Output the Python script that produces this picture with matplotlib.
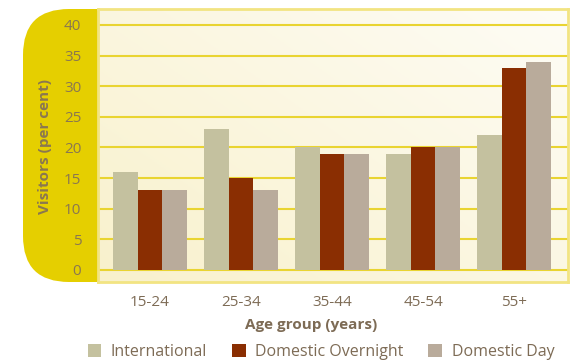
import matplotlib.pyplot as plt
import numpy as np
from matplotlib.patches import FancyBboxPatch

groups = ['15-24', '25-34', '35-44', '45-54', '55+']
international = [16, 23, 20, 19, 22]
overnight = [13, 15, 19, 20, 33]
day_trip = [13, 13, 19, 20, 34]
series_names = ['International', 'Domestic Overnight', 'Domestic Day']
colors = ['#c4c19f', '#8a2e02', '#b9ab9b']
yticks = [0, 5, 10, 15, 20, 25, 30, 35, 40]

txt = '#7d6b55'
yellow = '#e5cf00'
plt.rcParams['font.family'] = ['Open Sans', 'DejaVu Sans']

W, H = 575, 364
fig = plt.figure(figsize=(W / 100, H / 100), dpi=100)

# background axes in pixel units for the rounded yellow panel
bg = fig.add_axes([0, 0, 1, 1], zorder=0)
bg.set_xlim(0, W)
bg.set_ylim(H, 0)
bg.axis('off')
bg.add_patch(FancyBboxPatch((23, 9), 150, 273, boxstyle='round,pad=0,rounding_size=46',
                            facecolor=yellow, edgecolor='none'))

ax = fig.add_axes([98 / W, 1 - 282 / H, 470 / W, 273 / H], zorder=2)

# cream gradient background
gx, gy = np.meshgrid(np.linspace(0, 1, 200), np.linspace(0, 1, 100))
g = np.clip(0.55 * gx + 0.45 * gy, 0, 1)
c0 = np.array([0.975, 0.945, 0.80])
c1 = np.array([0.995, 0.99, 0.965])
img = c0[None, None, :] * (1 - g[..., None]) + c1[None, None, :] * g[..., None]
ax.imshow(img, extent=[0, 1, 0, 1], transform=ax.transAxes, origin='lower',
          aspect='auto', zorder=0)

x = np.arange(len(groups))
w = 0.27
for i, (vals, name, c) in enumerate(zip([international, overnight, day_trip], series_names, colors)):
    ax.bar(x + (i - 1) * w, vals, w, color=c, label=name, zorder=3)

ax.set_xlim(-0.571, 4.593)
ax.set_ylim(-1.96, 42.6)
ax.set_yticks(yticks)
for t in yticks:
    ax.axhline(t, color='#e9d431', lw=1.5, zorder=1)

for s in ax.spines.values():
    s.set_color('#f2e482')
    s.set_linewidth(2)

ax.set_xticks(x)
ax.set_xticklabels(groups)
ax.tick_params(axis='both', length=0, labelsize=11, colors=txt)
ax.tick_params(axis='y', pad=12)
ax.tick_params(axis='x', pad=9)
for lab in ax.get_yticklabels():
    lab.set_color('#8a7750')

fig.text(45 / W, 1 - 146 / H, 'Visitors (per cent)', rotation=90, ha='center', va='center',
         fontsize=11, fontweight='bold', color='#8a7750')
fig.text(311 / W, 1 - 325 / H, 'Age group (years)', ha='center', va='center',
         fontsize=11, fontweight='bold', color=txt)

fig.legend(loc='center', bbox_to_anchor=(321 / W, 1 - 352 / H), ncol=3, frameon=False,
           fontsize=11.5, handlelength=0.85, handleheight=0.85, columnspacing=1.55,
           handletextpad=0.6, labelcolor=txt)

fig.savefig('out.png', dpi=100)
